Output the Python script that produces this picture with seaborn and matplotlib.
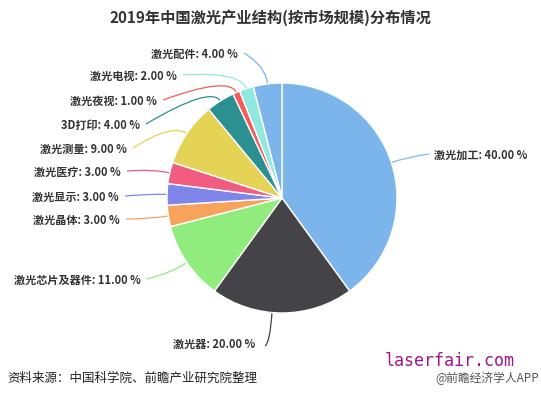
import numpy as np
import matplotlib.pyplot as plt
import seaborn as sns
from matplotlib.path import Path
from matplotlib.patches import PathPatch

# 数据
categories = ['激光加工', '激光器', '激光芯片及器件', '激光晶体', '激光显示', '激光医疗',
              '激光测量', '3D打印', '激光夜视', '激光电视', '激光配件']
shares = [40, 20, 11, 3, 3, 3, 9, 4, 1, 2, 4]
colors = ['#7cb5ec', '#434348', '#90ed7d', '#f7a35c', '#8085e9', '#f15c80',
          '#e4d354', '#2b908f', '#f45b5b', '#91e8e1', '#7cb5ec']

# 标签位置 (像素坐标, 左上为原点)
label_pos = [(434, 155), (255, 344), (141, 280), (120, 220), (119, 197), (121, 172),
             (127, 149), (140, 125), (157, 101), (177, 76), (238, 54)]

sns.set_theme(style='white')
plt.rcParams['font.family'] = ['Noto Sans CJK SC', 'DejaVu Sans']

W, H = 541, 395
fig = plt.figure(figsize=(W / 100, H / 100), dpi=100)
ax = fig.add_axes([0, 0, 1, 1])

cx, cy, r = 282, H - 198, 115
wedges, _ = ax.pie(shares, colors=colors, startangle=90, counterclock=False,
                   center=(cx, cy), radius=r, frame=True,
                   wedgeprops=dict(edgecolor='white', linewidth=1, zorder=3))
ax.set_xlim(0, W)
ax.set_ylim(0, H)
ax.set_aspect('auto')
ax.axis('off')

# 标签与引线
for w, name, val, (lx, ly), c in zip(wedges, categories, shares, label_pos, colors):
    ang = np.deg2rad((w.theta1 + w.theta2) / 2)
    ux, uy = np.cos(ang), np.sin(ang)
    right = ux > 0.05
    ty = H - ly
    if name == '激光器':
        p0 = (cx - 10, cy - r + 1)
        p1 = (cx - 12, cy - r - 30)
        p2 = (lx + 10, ty - 2)
    else:
        p0 = (cx + r * ux, cy + r * uy)
        p1 = (cx + (r + 18) * ux, cy + (r + 18) * uy)
        p2 = (lx - 5, ty + 1) if right else (lx + 6, ty + 1)
    path = Path([p0, p1, p2], [Path.MOVETO, Path.CURVE3, Path.CURVE3])
    ax.add_patch(PathPatch(path, fc='none', ec=c, lw=0.9, zorder=2))
    ax.text(lx, ty, f'{name}: {val:.2f} %', ha='left' if right else 'right',
            va='center', fontsize=8, fontweight='bold', color='#333333')

fig.text(270 / W, 1 - 18 / H, '2019年中国激光产业结构(按市场规模)分布情况',
         ha='center', va='center', fontsize=11, fontweight='bold', color='#333333')
fig.text(7 / W, 1 - 378 / H, '资料来源：中国科学院、前瞻产业研究院整理',
         ha='left', va='center', fontsize=9, color='#222222')
fig.text(515 / W, 1 - 361 / H, 'laserfair.com', ha='right', va='center',
         fontsize=12, color='#a0168c', family='DejaVu Sans Mono')
fig.text(539 / W, 1 - 378 / H, '@前瞻经济学人APP', ha='right', va='center',
         fontsize=8.5, color='#555555')

fig.savefig('out.png', dpi=100, facecolor='white')
